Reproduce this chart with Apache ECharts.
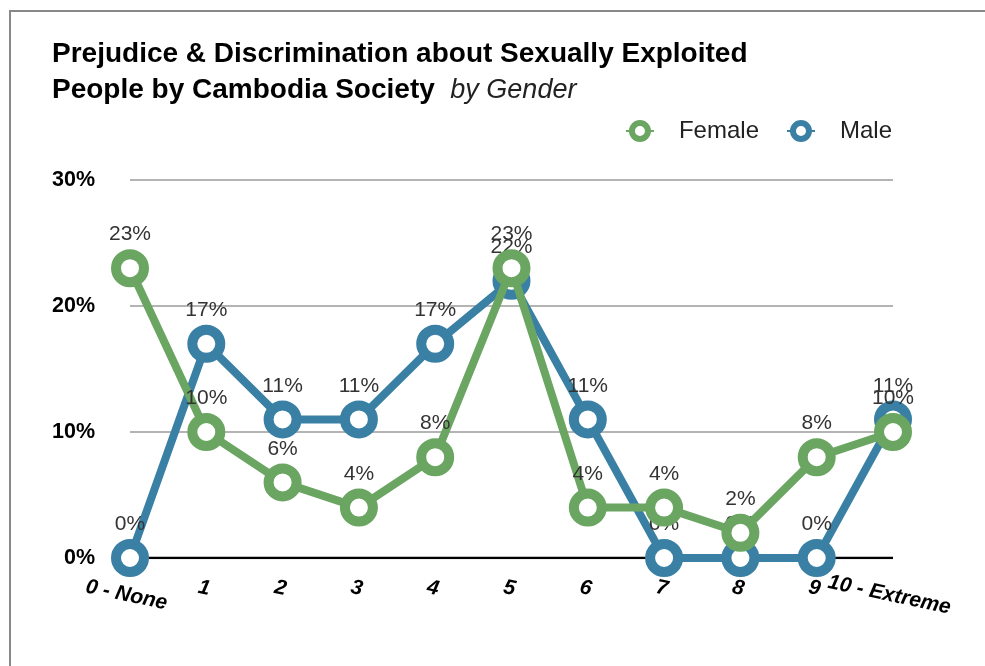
<!DOCTYPE html>
<html><head><meta charset="utf-8">
<script src="https://cdn.jsdelivr.net/npm/echarts@6/dist/echarts.min.js"></script>
<style>html,body{margin:0;padding:0;background:#fff}#frame{position:absolute;left:9px;top:10px;width:990px;height:670px;border-left:2px solid #888;border-top:2px solid #888}#c{position:absolute;left:0;top:0;width:985px;height:666px}</style>
</head><body><div id="frame"></div><div id="c"></div>
<script>
const categories = ['0 - None','1','2','3','4','5','6','7','8','9','10 - Extreme'];
const female = [23,10,6,4,8,23,4,4,2,8,10];
const male = [0,17,11,11,17,22,11,0,0,0,11];
const yTicks = [0,10,20,30];
const FF = '"Liberation Sans", Arial, sans-serif';
const GREEN = '#6aa561', BLUE = '#3a80a4';
const chart = echarts.init(document.getElementById('c'));
function mk(name, data, color, z){
  return {name, type:'line', data, z, symbol:'circle', symbolSize:28,
    lineStyle:{color, width:8}, itemStyle:{color:'#fff', borderColor:color, borderWidth:10},
    label:{show:true, position:'top', distance:4, formatter:'{c}%', fontFamily:FF, fontSize:21, color:'#333', fontWeight:'normal'},
    emphasis:{disabled:true}};
}
const xl = {fontFamily:FF, fontSize:21, fontStyle:'italic', fontWeight:'bold', color:'#000'};
chart.setOption({
  animation:false,
  title:{left:47, top:31, text:'Prejudice & Discrimination about Sexually Exploited\n{b|People by Cambodia Society}  {i|by Gender}',
    textStyle:{fontFamily:FF, fontSize:28, fontWeight:'bold', color:'#000', lineHeight:36,
      rich:{b:{fontFamily:FF,fontSize:28,fontWeight:'bold',color:'#000',lineHeight:36}, i:{fontFamily:FF,fontSize:27,fontStyle:'italic',fontWeight:'normal',color:'#222',lineHeight:36}}}},
  legend:{right:88, top:114, itemWidth:28, itemHeight:20, itemGap:27, textStyle:{fontFamily:FF, fontSize:24, color:'#222', padding:[0,0,0,20]},
    data:[{name:'Female', itemStyle:{color:'#fff', borderColor:GREEN, borderWidth:6}},{name:'Male', itemStyle:{color:'#fff', borderColor:BLUE, borderWidth:6}}]},
  grid:{left:130, right:92, top:180, bottom:108, containLabel:false, outerBoundsMode:'none'},
  xAxis:{type:'category', data:categories, boundaryGap:false,
    axisLine:{show:false}, axisTick:{show:false},
    axisLabel:{rotate:-12, align:'center', verticalAlign:'top', margin:20, interval:0, ...xl,
      formatter: v => v.length > 2 ? '{l|' + v + '}' : v,
      rich:{l:{...xl, padding:[7,0,0,0]}}}},
  yAxis:{type:'value', min:0, max:30, interval:10,
    axisLine:{show:false}, axisTick:{show:false},
    axisLabel:{formatter:v=>yTicks.includes(v)?v+'%':'', margin:35, fontFamily:FF, fontSize:21.5, fontWeight:'bold', color:'#000'},
    splitLine:{lineStyle:{color:'#b4b4b4', width:2}}},
  series:[
    mk('Male', male, BLUE, 3),
    mk('Female', female, GREEN, 4),
    {type:'line', data:categories.map(()=>0), symbol:'none', lineStyle:{color:'#000', width:2.5}, z:2, silent:true, label:{show:false}}
  ]
});
</script></body></html>
